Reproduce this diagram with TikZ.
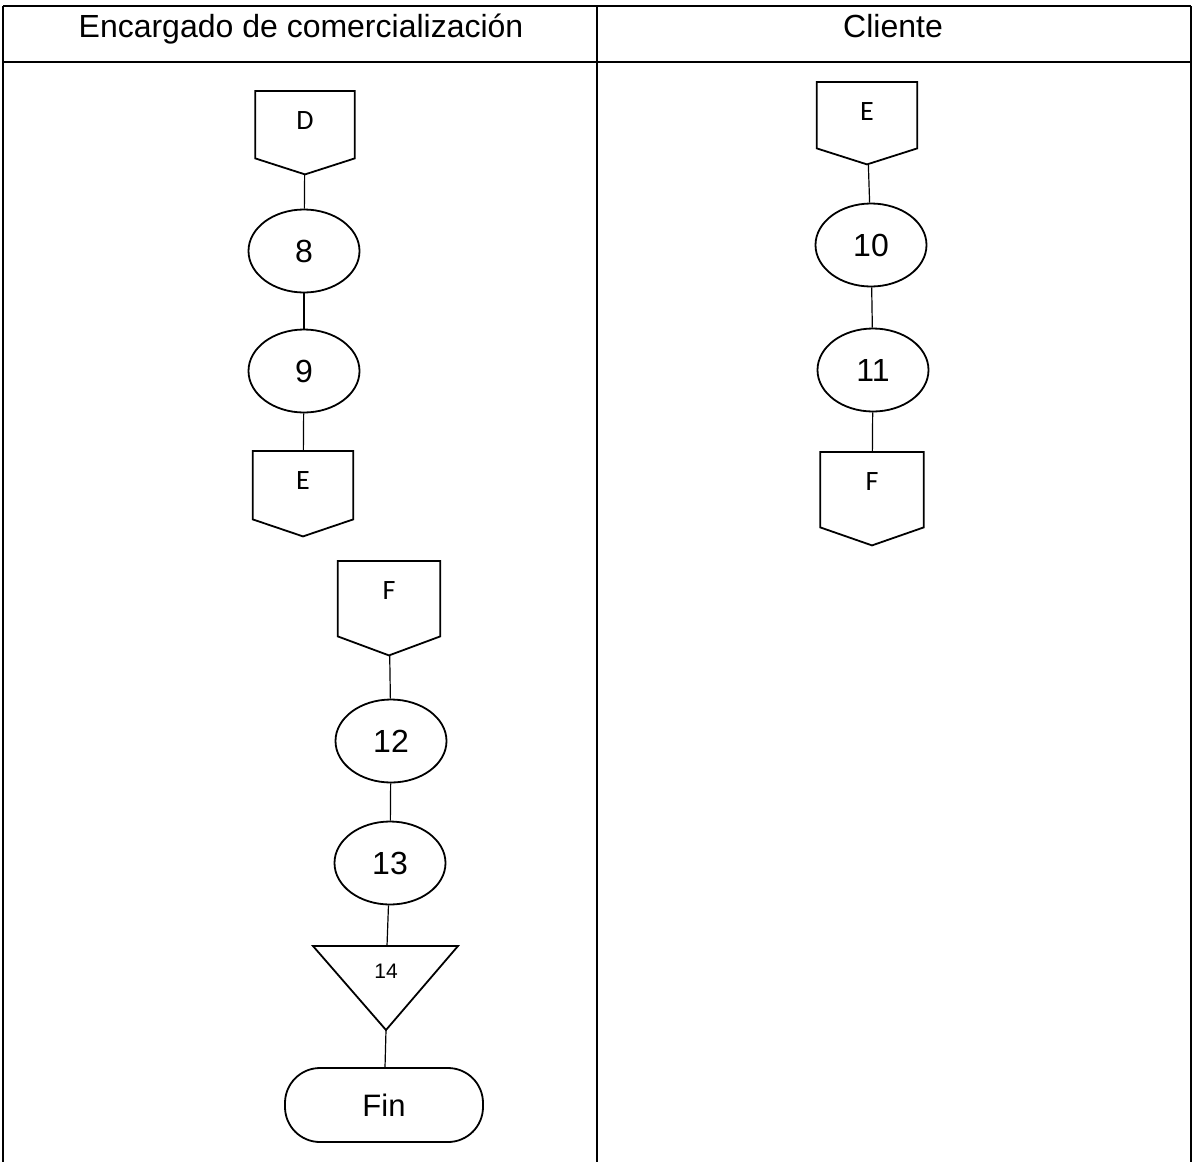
\documentclass[tikz,border=0pt]{standalone}
\usepackage{fontspec}
\setmainfont{Liberation Sans}
\newfontfamily\carl{Carlito}
\usetikzlibrary{shapes.geometric,calc}
\tikzset{
  shp/.style={draw=black, line width=1.8pt},
  conn/.style={draw=black, line width=1.2pt},
  gridline/.style={draw=black, line width=1.5pt},
  oval/.style={ellipse, shp, minimum width=111, minimum height=83, inner sep=0pt, font=\fontsize{32}{32}\selectfont},
  opcbox/.style={rectangle, inner sep=0pt, anchor=north},
  opclabel/.style={inner sep=0pt, anchor=center, font=\carl\fontsize{28}{28}\selectfont},
  term/.style={rectangle, rounded corners=35pt, shp, minimum width=198, minimum height=74, inner sep=0pt, font=\fontsize{31}{31}\selectfont},
  hdr/.style={font=\fontsize{32}{32}\selectfont, inner sep=0pt, anchor=base},
  tlabel/.style={inner sep=0pt, font=\fontsize{21}{21}\selectfont},
}
% #1 name, #2 top-centre, #3 width, #4 height, #5 side height, #6 label
\newcommand\opcnode[6]{%
  \pgfmathsetmacro\opcsh{#4-#5}%
  \node[opcbox, minimum width=#3, minimum height=#4] (#1) at (#2) {};
  \draw[shp] (#1.north west) -- (#1.north east) -- ([yshift=\opcsh pt]#1.south east)
    -- (#1.south) -- ([yshift=\opcsh pt]#1.south west) -- cycle;
  \node[opclabel] (#1l) at ([yshift=-30pt]#1.north) {\vphantom{D}#6};
}
\begin{document}
\begin{tikzpicture}[x=1pt,y=-1pt]
\useasboundingbox (0,0) rectangle (1193,1162);
% table
\draw[gridline] (3,6) -- (1191,6);
\draw[gridline] (3,62) -- (1191,62);
\draw[gridline] (3,6) -- (3,1162);
\draw[gridline] (597,6) -- (597,1162);
\draw[gridline] (1191,6) -- (1191,1162);
\node[hdr] (h1) at (301,37) {Encargado de comercialización};
\node[hdr] (h2) at (893,37) {Cliente};
% left lane, first group
\opcnode{D}{305,91}{99}{83}{67}{D}
\node[oval] (e8) at (304,251) {8};
\node[oval] (e9) at (304,371) {9};
\opcnode{E1}{303,451}{100}{85}{68}{E}
\draw[conn] (D) -- (e8);
\draw[conn] (e8) -- (e9);
\draw[conn] (e9) -- (E1);
% left lane, second group
\opcnode{F1}{389,561}{102}{94}{75}{F}
\node[oval] (e12) at (391,741) {12};
\node[oval] (e13) at (390,863) {13};
\coordinate (t14top) at (387,946);
\coordinate (t14apex) at (386,1030);
\coordinate (t14l) at (313,946);
\coordinate (t14r) at (458,946);
\draw[shp] (t14l) -- (t14r) -- (t14apex) -- cycle;
\node[tlabel] (t14) at (386,971) {14};
\node[term] (fin) at (384,1105) {Fin};
\draw[conn] (F1) -- (e12);
\draw[conn] (e12) -- (e13);
\draw[conn] (e13) -- (t14top);
\draw[conn] (t14apex) -- (fin);
% right lane
\opcnode{E2}{867,82}{100}{82}{66}{E}
\node[oval] (e10) at (871,245) {10};
\node[oval] (e11) at (873,370) {11};
\opcnode{F2}{872,452}{103}{93}{75}{F}
\draw[conn] (E2) -- (e10);
\draw[conn] (e10) -- (e11);
\draw[conn] (e11) -- (F2);
\end{tikzpicture}
\end{document}
